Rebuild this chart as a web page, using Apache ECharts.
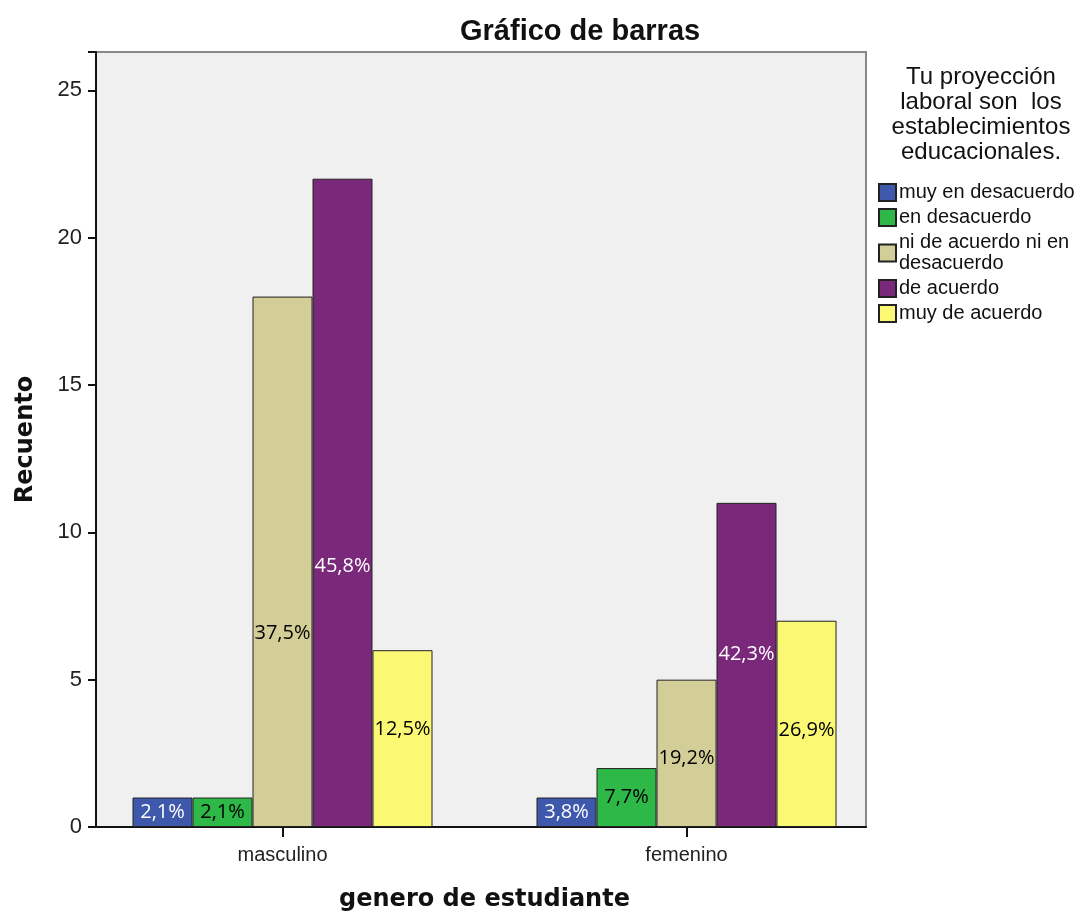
<!DOCTYPE html>
<html>
<head>
<meta charset="utf-8">
<script src="https://cdn.jsdelivr.net/npm/echarts@6/dist/echarts.min.js"></script>
<style>html,body{margin:0;padding:0;background:#fff}#c{width:1089px;height:911px}</style>
</head>
<body>
<div id="c"></div>
<script>
var categories = ['masculino', 'femenino'];
var seriesNames = ['muy en desacuerdo', 'en desacuerdo', 'ni de acuerdo ni en desacuerdo', 'de acuerdo', 'muy de acuerdo'];
var muyEnDesacuerdo = [1, 1];
var enDesacuerdo = [1, 2];
var niNi = [18, 5];
var deAcuerdo = [22, 11];
var muyDeAcuerdo = [6, 7];
var yTicks = [0, 5, 10, 15, 20, 25];
var legendTitle = ['Tu proyección', 'laboral son  los', 'establecimientos', 'educacionales.'];

var allValues = [muyEnDesacuerdo, enDesacuerdo, niNi, deAcuerdo, muyDeAcuerdo];
var colors = ['#3E58AC', '#2EB848', '#D3CE97', '#7A287A', '#FBF873'];
var labelColors = ['#ffffff', '#000000', '#000000', '#ffffff', '#000000'];
// label vertical offsets (styling) per series, per category
var labelOffsets = [[0, 0], [0, 0], [72, 5], [63, -11], [-9, 6]];

var totals = categories.map(function (c, i) {
  return allValues.reduce(function (s, arr) { return s + arr[i]; }, 0);
});

var series = allValues.map(function (arr, si) {
  return {
    name: seriesNames[si],
    type: 'bar',
    xAxisIndex: 1,
    yAxisIndex: 1,
    barWidth: 60,
    barGap: '0%',
    itemStyle: { color: colors[si], borderColor: '#222', borderWidth: 1 },
    data: arr.map(function (v, ci) {
      return {
        value: v,
        label: { offset: [0, labelOffsets[si][ci]] }
      };
    }),
    label: {
      show: true,
      position: 'inside',
      color: labelColors[si],
      fontFamily: 'Open Sans',
      fontSize: 20,
      formatter: function (p) {
        return (p.value / totals[p.dataIndex] * 100).toFixed(1).replace('.', ',') + '%';
      }
    }
  };
});

var yMax = 26.3;
var chart = echarts.init(document.getElementById('c'));
chart.setOption({
  animation: false,
  backgroundColor: '#ffffff',
  title: {
    text: 'Gráfico de barras',
    left: 455,
    top: 12,
    textStyle: { fontFamily: 'Liberation Sans', fontWeight: 'bold', fontSize: 29, color: '#111' }
  },
  grid: [
    { left: 96, top: 52, right: 223, bottom: 84, outerBoundsMode: 'none', containLabel: false,
      show: true, backgroundColor: '#F0F0F0', borderColor: '#888', borderWidth: 2 },
    { left: 80.5, top: 52, right: 200.5, bottom: 84, outerBoundsMode: 'none', containLabel: false }
  ],
  legend: {
    orient: 'vertical',
    left: 873,
    top: 177,
    itemWidth: 17,
    itemHeight: 17,
    itemGap: 4,
    icon: 'rect',
    data: seriesNames,
    formatter: function (n) {
      return n === 'ni de acuerdo ni en desacuerdo' ? 'ni de acuerdo ni en\ndesacuerdo' : n;
    },
    textStyle: { fontFamily: 'Liberation Sans', fontSize: 20, lineHeight: 21, color: '#111', padding: [0, 0, 0, -2] }
  },
  graphic: [{
    type: 'text',
    x: 981,
    y: 65,
    style: {
      text: legendTitle.join('\n'),
      fontFamily: 'Liberation Sans',
      fontSize: 24,
      lineHeight: 25,
      fill: '#111',
      align: 'center'
    }
  }],
  xAxis: [
    {
      type: 'category',
      gridIndex: 0,
      data: categories,
      axisLine: { lineStyle: { color: '#111', width: 2 } },
      axisTick: { show: false },
      axisLabel: { show: false }
    },
    {
      type: 'category',
      gridIndex: 1,
      data: categories,
      name: 'genero de estudiante',
      nameLocation: 'middle',
      nameGap: 61,
      nameTextStyle: { fontFamily: 'DejaVu Sans', fontWeight: 'bold', fontSize: 24, color: '#111' },
      axisLine: { show: false },
      axisTick: { show: true, alignWithLabel: true, length: 10, lineStyle: { color: '#111', width: 2 } },
      axisLabel: { margin: 18, fontFamily: 'Liberation Sans', fontSize: 20, color: '#222' }
    }
  ],
  yAxis: [
    {
      type: 'value',
      gridIndex: 0,
      min: 0,
      max: yMax,
      interval: 5,
      name: 'Recuento',
      nameLocation: 'middle',
      nameGap: 58,
      nameTextStyle: { fontFamily: 'DejaVu Sans', fontWeight: 'bold', fontSize: 24, color: '#111' },
      axisLine: { show: true, lineStyle: { color: '#111', width: 2 } },
      axisTick: { show: true, length: 8, lineStyle: { color: '#111', width: 2 } },
      splitLine: { show: false },
      axisLabel: {
        margin: 14,
        fontFamily: 'Liberation Sans', fontSize: 22, color: '#222',
        formatter: function (v) { return yTicks.indexOf(v) >= 0 ? String(v) : ''; }
      }
    },
    {
      type: 'value',
      gridIndex: 1,
      min: 0,
      max: yMax,
      interval: 5,
      show: false,
      splitLine: { show: false }
    }
  ],
  series: series
});
</script>
</body>
</html>
